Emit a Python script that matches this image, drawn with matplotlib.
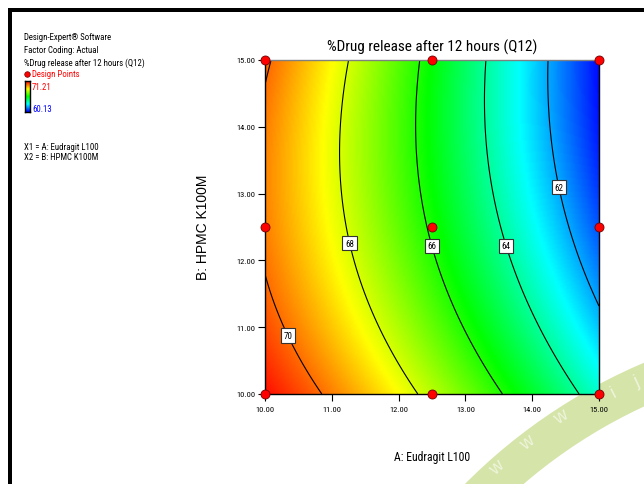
import numpy as np
import matplotlib
matplotlib.use("Agg")
import matplotlib.pyplot as plt
from matplotlib.colors import LinearSegmentedColormap
from matplotlib.patches import Rectangle, Wedge
from matplotlib.lines import Line2D
from matplotlib.transforms import IdentityTransform

# ---------------- data ----------------
factor_a_range = [10.0, 15.0]          # A: Eudragit L100
factor_b_range = [10.0, 15.0]          # B: HPMC K100M
design_a = [10.0, 12.5, 15.0, 10.0, 12.5, 15.0, 10.0, 12.5, 15.0]
design_b = [10.0, 10.0, 10.0, 12.5, 12.5, 12.5, 15.0, 15.0, 15.0]
# fitted quadratic model (coded units): Intercept, A, B, AB, A^2, B^2
model_terms = ["Intercept", "A", "B", "AB", "A2", "B2"]
model_coefs = [65.87, -4.37, -1.02, -0.57, -0.43, 0.79]
contour_levels = [62, 64, 66, 68, 70]
response_min = 60.13
response_max = 71.21
tick_values = [10.0, 11.0, 12.0, 13.0, 14.0, 15.0]
title_text = "%Drug release after 12 hours (Q12)"
x_label = "A: Eudragit L100"
y_label = "B: HPMC K100M"
legend_lines = ["Design-Expert\u00ae Software", "Factor Coding: Actual",
                "%Drug release after 12 hours (Q12)"]
factor_lines = ["X1 = A: Eudragit L100", "X2 = B: HPMC K100M"]

# ---------------- style ----------------
NARROW = ["Roboto Condensed", "Liberation Sans", "DejaVu Sans"]
REG = ["Liberation Sans", "DejaVu Sans"]
W, H = 644, 485
cmap = LinearSegmentedColormap.from_list(
    "de", [(0.0, "#0000ff"), (0.25, "#00ffff"), (0.5, "#00ff00"),
           (0.75, "#ffff00"), (1.0, "#ff0000")])

fig = plt.figure(figsize=(W / 100, H / 100), dpi=100)
fig.patch.set_facecolor("white")

def fx(px):
    return px / W

def fy(py):
    return 1 - py / H

ax = fig.add_axes([fx(265), fy(395), 334 / W, 334 / H])

A = np.linspace(factor_a_range[0], factor_a_range[1], 241)
B = np.linspace(factor_b_range[0], factor_b_range[1], 241)
AA, BB = np.meshgrid(A, B)
ca = (AA - 12.5) / 2.5
cb = (BB - 12.5) / 2.5
c = model_coefs
Z = c[0] + c[1] * ca + c[2] * cb + c[3] * ca * cb + c[4] * ca ** 2 + c[5] * cb ** 2

ax.imshow(Z, extent=[A[0], A[-1], B[0], B[-1]], origin="lower", cmap=cmap,
          vmin=response_min, vmax=response_max, aspect="auto",
          interpolation="bilinear")
cs = ax.contour(AA, BB, Z, levels=contour_levels, colors="black", linewidths=0.8)
label_positions = [(10.37, 10.89), (11.27, 12.26), (12.50, 12.22),
                   (13.62, 12.22), (14.42, 13.10)]
labels = ax.clabel(cs, fmt="%d", manual=label_positions, inline=False, fontsize=6.5)
for t in labels:
    t.set_rotation(0)
    t.set_family(NARROW)
    t.set_bbox(dict(boxstyle="square,pad=0.3", fc="white", ec="#333333", lw=0.8))
    t.set_zorder(6)

ax.plot(design_a, design_b, "o", ms=6.5, mfc="#ff0000", mec="#700000",
        mew=0.6, clip_on=False, zorder=7)

ax.set_xlim(factor_a_range)
ax.set_ylim(factor_b_range)
ax.set_xticks(tick_values)
ax.set_yticks(tick_values)
ax.set_xticklabels([f"{v:.2f}" for v in tick_values])
ax.set_yticklabels([f"{v:.2f}" for v in tick_values])
ax.tick_params(direction="out", length=5, width=0.8, labelsize=6, colors="black")
ax.tick_params(axis="x", pad=4)
ax.tick_params(axis="y", pad=2)
for t in ax.get_xticklabels() + ax.get_yticklabels():
    t.set_family(NARROW)
for s in ["left", "bottom", "right"]:
    ax.spines[s].set_color("black")
    ax.spines[s].set_linewidth(1.0)
ax.spines["top"].set_color("#808080")
ax.spines["top"].set_linewidth(1.0)

ax.set_title(title_text, fontsize=11, family=NARROW, pad=7)
fig.text(fx(432), fy(458), x_label, ha="center", va="center", fontsize=8.5,
         family=NARROW)
fig.text(fx(203), fy(227), y_label, ha="center", va="center", fontsize=10,
         family=REG, rotation=90)

# ---------------- left legend block ----------------
for txt, py in zip(legend_lines, [38, 50.5, 63]):
    fig.text(fx(24), fy(py), txt, ha="left", va="center", fontsize=6.3,
             family=NARROW)
fig.add_artist(Line2D([fx(27)], [fy(75)], transform=fig.transFigure,
                      marker="o", ms=4, mfc="#ff0000", mec="#700000", mew=0.5))
fig.text(fx(32), fy(74.5), "Design Points", ha="left", va="center",
         fontsize=6.3, family=NARROW, color="#ff0000")
cax = fig.add_axes([fx(25), fy(113), 5 / W, 31 / H])
cax.imshow(np.linspace(response_min, response_max, 64).reshape(-1, 1),
           origin="lower", cmap=cmap, aspect="auto",
           vmin=response_min, vmax=response_max)
cax.set_xticks([])
cax.set_yticks([])
for s in cax.spines.values():
    s.set_color("black")
    s.set_linewidth(1.0)
fig.text(fx(32), fy(87), f"{response_max:.2f}", ha="left", va="center",
         fontsize=6.3, family=NARROW, color="#ff0000")
fig.text(fx(32), fy(110), f"{response_min:.2f}", ha="left", va="center",
         fontsize=6.3, family=NARROW, color="#0000ff")
for txt, py in zip(factor_lines, [147, 158]):
    fig.text(fx(24), fy(py), txt, ha="left", va="center", fontsize=6.3,
             family=NARROW)

# ---------------- frame ----------------
fig.add_artist(Rectangle((fx(8), fy(13)), (W - 8) / W, 4 / H,
                         transform=fig.transFigure, color="black", lw=0))
fig.add_artist(Rectangle((fx(8), 0), 4 / W, (H - 9) / H,
                         transform=fig.transFigure, color="black", lw=0))

# ---------------- watermark ----------------
cx, cy = 863.7, H - 881
wedge = Wedge((cx, cy), 562, 95, 145, width=40, transform=IdentityTransform(),
              facecolor="#d5e4a8", edgecolor="none", zorder=-1)
fig.add_artist(wedge)
for ch, (px, py) in zip(["w", "w", "w", "i", "j"],
                        [(497, 468), (527, 443), (561, 418), (614, 393), (637, 382)]):
    ang = np.degrees(np.arctan2((H - py) - cy, px - cx)) - 90
    fig.text(fx(px), fy(py), ch, ha="center", va="center", fontsize=13,
             color="white", alpha=0.6, rotation=ang, family=REG)

fig.savefig("out.png", dpi=100)
